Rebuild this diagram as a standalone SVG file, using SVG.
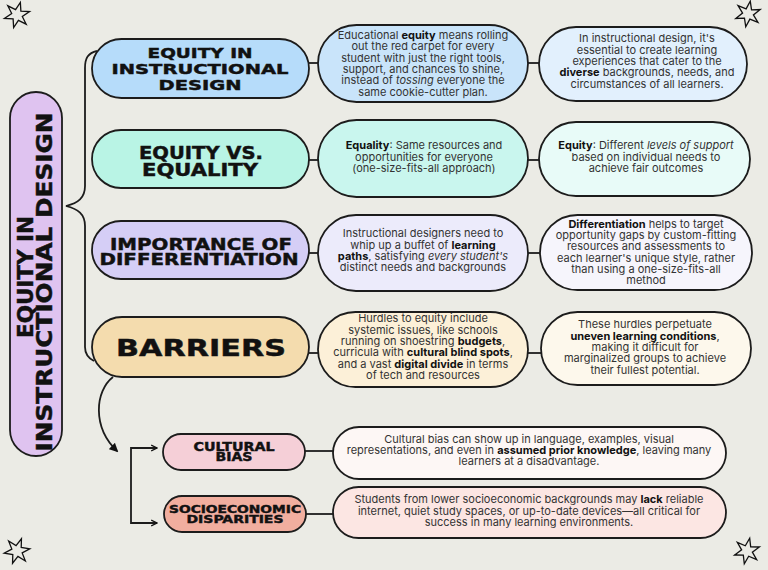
<svg xmlns="http://www.w3.org/2000/svg" width="768" height="570" viewBox="0 0 768 570">
<style>
.bg{fill:#ebebe5}
.nd{stroke:#1c1c1c;stroke-width:1.8}
.ln{stroke:#1c1c1c;stroke-width:1.8;fill:none}
.hd{font-family:"DejaVu Sans",sans-serif;font-weight:bold;fill:#111;text-anchor:middle;stroke:#111;stroke-width:0.45}
.b{font-family:Inter,"Liberation Sans",sans-serif;font-size:11px;fill:#333;text-anchor:middle}
.k{font-weight:bold;fill:#111}
.i{font-style:italic}
.star{fill:none;stroke:#111;stroke-width:1.3;stroke-linejoin:miter}
</style>
<defs>
<polygon id="starShape" points="0,-13 2.75,-4.76 11.26,-6.5 5.5,0 11.26,6.5 2.75,4.76 0,13 -2.75,4.76 -11.26,6.5 -5.5,0 -11.26,-6.5 -2.75,-4.76"/>
<marker id="ah" viewBox="0 0 10 10" refX="8" refY="5" markerWidth="5" markerHeight="5" orient="auto" markerUnits="strokeWidth">
<path d="M0,0 L10,5 L0,10 z" fill="#111"/>
</marker>
<marker id="chev" viewBox="0 0 10 10" refX="9" refY="5" markerWidth="4" markerHeight="5" orient="auto-start-reverse" markerUnits="strokeWidth">
<path d="M1,1 L9,5 L1,9" fill="none" stroke="#111" stroke-width="1.6"/>
</marker>
</defs>
<rect class="bg" x="0" y="0" width="768" height="570"/>

<g id="stars">
<use href="#starShape" class="star" transform="translate(17,15) rotate(15)"/>
<use href="#starShape" class="star" transform="translate(748,14) rotate(10)"/>
<use href="#starShape" class="star" transform="translate(17,551) rotate(20)"/>
<use href="#starShape" class="star" transform="translate(747,551) rotate(12)"/>
</g>

<g id="connectors">
<path class="ln" d="M97 51 C88 53 85 58 85 68 L85 186 C85 198 78 203 66 206 C78 209 85 214 85 226 L85 347 C85 354 88 358 94 361"/>
<line class="ln" x1="305" y1="63" x2="320" y2="63"/>
<line class="ln" x1="526" y1="63" x2="541" y2="63"/>
<line class="ln" x1="305" y1="160" x2="320" y2="160"/>
<line class="ln" x1="526" y1="160" x2="541" y2="160"/>
<line class="ln" x1="305" y1="253" x2="320" y2="253"/>
<line class="ln" x1="526" y1="253" x2="542" y2="253"/>
<line class="ln" x1="305" y1="353" x2="320" y2="353"/>
<line class="ln" x1="526" y1="353" x2="543" y2="353"/>
<line class="ln" x1="303" y1="451" x2="335" y2="451"/>
<line class="ln" x1="304" y1="514" x2="335" y2="514"/>
<path class="ln" stroke-width="2" d="M113 377 C95 391 92 427 117 451" marker-end="url(#ah)"/>
<path class="ln" d="M157 448 L131 448 L131 523 L157 523" marker-start="url(#chev)" marker-end="url(#chev)"/>
</g>

<g id="title">
<rect class="nd" x="10" y="92" width="52" height="364" rx="26" fill="#dfc3f0"/>
<text class="hd" font-size="21" transform="translate(33,277) rotate(-90)" x="0" y="0" textLength="122" lengthAdjust="spacingAndGlyphs">EQUITY IN</text>
<text class="hd" font-size="21" transform="translate(52,282) rotate(-90)" x="0" y="0" textLength="339" lengthAdjust="spacingAndGlyphs">INSTRUCTIONAL DESIGN</text>
</g>

<g id="h1">
<rect class="nd" x="92" y="39" width="217" height="59" rx="29.5" fill="#b6dcfa"/>
<text class="hd" font-size="14.5" x="200" y="58" textLength="105" lengthAdjust="spacingAndGlyphs">EQUITY IN</text>
<text class="hd" font-size="14.5" x="200" y="74" textLength="177" lengthAdjust="spacingAndGlyphs">INSTRUCTIONAL</text>
<text class="hd" font-size="14.5" x="200" y="90" textLength="83" lengthAdjust="spacingAndGlyphs">DESIGN</text>
</g>
<g id="h2">
<rect class="nd" x="92" y="130" width="217" height="58" rx="29" fill="#b9f4e5"/>
<text class="hd" font-size="17" x="201" y="159" textLength="124" lengthAdjust="spacingAndGlyphs">EQUITY VS.</text>
<text class="hd" font-size="17" x="200" y="176" textLength="116" lengthAdjust="spacingAndGlyphs">EQUALITY</text>
</g>
<g id="h3">
<rect class="nd" x="92" y="221" width="217" height="58" rx="29" fill="#d5cef6"/>
<text class="hd" font-size="15.5" x="201" y="250" textLength="182" lengthAdjust="spacingAndGlyphs">IMPORTANCE OF</text>
<text class="hd" font-size="15.5" x="199" y="265" textLength="199" lengthAdjust="spacingAndGlyphs">DIFFERENTIATION</text>
</g>
<g id="h4">
<rect class="nd" x="92" y="317" width="217" height="60" rx="30" fill="#f4dcae"/>
<text class="hd" font-size="23" x="201" y="356" textLength="170" lengthAdjust="spacingAndGlyphs">BARRIERS</text>
</g>
<g id="s1">
<rect class="nd" x="163" y="434" width="142" height="36" rx="18" fill="#f5cfd7"/>
<text class="hd" font-size="11.5" x="234" y="451" textLength="81" lengthAdjust="spacingAndGlyphs">CULTURAL</text>
<text class="hd" font-size="11.5" x="234" y="461" textLength="37" lengthAdjust="spacingAndGlyphs">BIAS</text>
</g>
<g id="s2">
<rect class="nd" x="164" y="496" width="142" height="36" rx="18" fill="#f1ae9f"/>
<text class="hd" font-size="11" x="235" y="513" textLength="132" lengthAdjust="spacingAndGlyphs">SOCIOECONOMIC</text>
<text class="hd" font-size="11" x="235" y="523" textLength="97" lengthAdjust="spacingAndGlyphs">DISPARITIES</text>
</g>

<g id="d1a">
<rect class="nd" x="318" y="25" width="210" height="77" rx="38.5" fill="#c9e4fa"/>
<text class="b" x="423" y="39">Educational <tspan class="k">equity</tspan> means rolling</text>
<text class="b" x="423" y="50.3">out the red carpet for every</text>
<text class="b" x="423" y="61.6">student with just the right tools,</text>
<text class="b" x="423" y="72.9">support, and chances to shine,</text>
<text class="b" x="423" y="84.2">instead of <tspan class="i">tossing</tspan> everyone the</text>
<text class="b" x="423" y="95.5">same cookie-cutter plan.</text>
</g>
<g id="d1b">
<rect class="nd" x="539" y="27" width="208" height="74" rx="37" fill="#e2f0fd"/>
<text class="b" x="647" y="42.3">In instructional design, it's</text>
<text class="b" x="647" y="53.6">essential to create learning</text>
<text class="b" x="647" y="64.9">experiences that cater to the</text>
<text class="b" x="647" y="76.2"><tspan class="k">diverse</tspan> backgrounds, needs, and</text>
<text class="b" x="647" y="87.5">circumstances of all learners.</text>
</g>
<g id="d2a">
<rect class="nd" x="318" y="120" width="210" height="77" rx="38.5" fill="#c9f6ee"/>
<text class="b" x="424" y="149.3"><tspan class="k">Equality</tspan>: Same resources and</text>
<text class="b" x="424" y="160.5">opportunities for everyone</text>
<text class="b" x="424" y="171.7">(one-size-fits-all approach)</text>
</g>
<g id="d2b">
<rect class="nd" x="539" y="122" width="211" height="74" rx="37" fill="#e8fbf8"/>
<text class="b" x="646" y="149.3"><tspan class="k">Equity</tspan>: Different <tspan class="i">levels of support</tspan></text>
<text class="b" x="646" y="160.5">based on individual needs to</text>
<text class="b" x="646" y="171.7">achieve fair outcomes</text>
</g>
<g id="d3a">
<rect class="nd" x="318" y="215" width="210" height="76" rx="38" fill="#ecebfb"/>
<text class="b" x="423" y="237.3">Instructional designers need to</text>
<text class="b" x="423" y="248.6">whip up a buffet of <tspan class="k">learning</tspan></text>
<text class="b" x="423" y="259.9"><tspan class="k">paths</tspan>, satisfying <tspan class="i">every student's</tspan></text>
<text class="b" x="423" y="271.2">distinct needs and backgrounds</text>
</g>
<g id="d3b">
<rect class="nd" x="540" y="215" width="212" height="75" rx="37.5" fill="#f6f5fc"/>
<text class="b" x="646" y="227.7"><tspan class="k">Differentiation</tspan> helps to target</text>
<text class="b" x="646" y="239">opportunity gaps by custom-fitting</text>
<text class="b" x="646" y="250.3">resources and assessments to</text>
<text class="b" x="646" y="261.6">each learner's unique style, rather</text>
<text class="b" x="646" y="272.9">than using a one-size-fits-all</text>
<text class="b" x="646" y="284.2">method</text>
</g>
<g id="d4a">
<rect class="nd" x="318" y="312" width="210" height="75" rx="37.5" fill="#fcf0d8"/>
<text class="b" x="423" y="322.3">Hurdles to equity include</text>
<text class="b" x="423" y="333.6">systemic issues, like schools</text>
<text class="b" x="423" y="344.9">running on shoestring <tspan class="k">budgets</tspan>,</text>
<text class="b" x="423" y="356.2">curricula with <tspan class="k">cultural blind spots</tspan>,</text>
<text class="b" x="423" y="367.5">and a vast <tspan class="k">digital divide</tspan> in terms</text>
<text class="b" x="423" y="378.8">of tech and resources</text>
</g>
<g id="d4b">
<rect class="nd" x="541" y="312" width="210" height="73" rx="36.5" fill="#fdf8ec"/>
<text class="b" x="645" y="328.3">These hurdles perpetuate</text>
<text class="b" x="645" y="339.6"><tspan class="k">uneven learning conditions</tspan>,</text>
<text class="b" x="645" y="350.9">making it difficult for</text>
<text class="b" x="645" y="362.2">marginalized groups to achieve</text>
<text class="b" x="645" y="373.5">their fullest potential.</text>
</g>
<g id="d5">
<rect class="nd" x="333" y="427" width="393" height="52" rx="26" fill="#fdf7f5"/>
<text class="b" x="529" y="442.7">Cultural bias can show up in language, examples, visual</text>
<text class="b" x="529" y="454">representations, and even in <tspan class="k">assumed prior knowledge</tspan>, leaving many</text>
<text class="b" x="529" y="465.3">learners at a disadvantage.</text>
</g>
<g id="d6">
<rect class="nd" x="333" y="487" width="393" height="51" rx="25.5" fill="#fce6e3"/>
<text class="b" x="529" y="503.3">Students from lower socioeconomic backgrounds may <tspan class="k">lack</tspan> reliable</text>
<text class="b" x="529" y="514.6">internet, quiet study spaces, or up-to-date devices—all critical for</text>
<text class="b" x="529" y="525.9">success in many learning environments.</text>
</g>
</svg>
